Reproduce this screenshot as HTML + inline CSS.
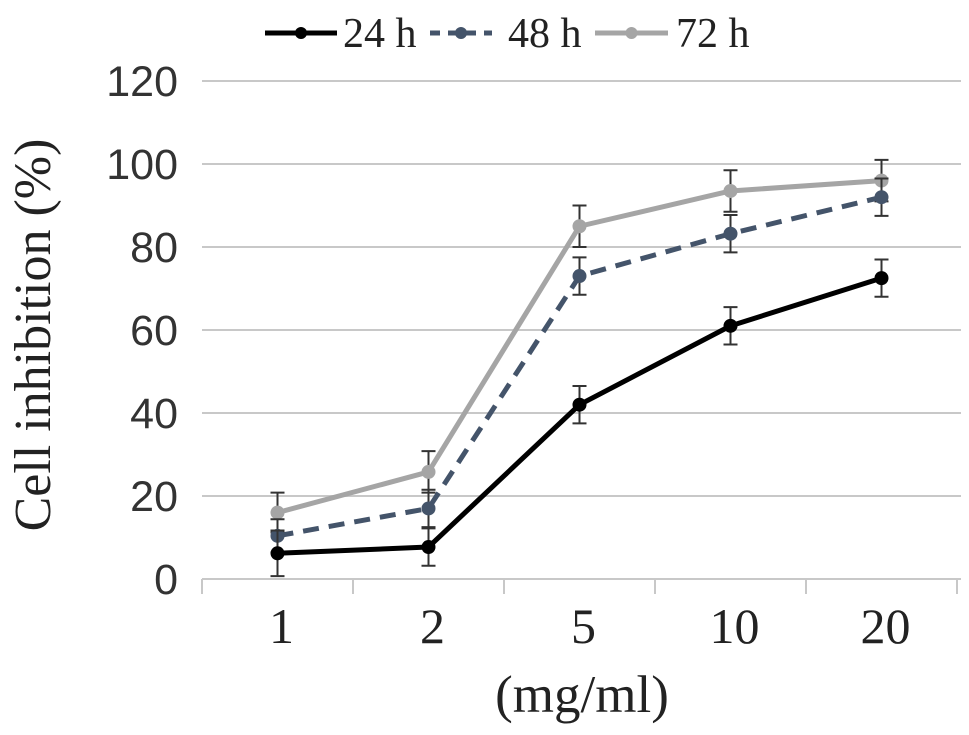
<!DOCTYPE html>
<html><head><meta charset="utf-8"><style>
html,body{margin:0;padding:0;background:#fff;}
svg{display:block;}
</style></head><body>
<svg id="chart" width="969" height="735" xmlns="http://www.w3.org/2000/svg">
<g id="grid"></g>
<g id="axes"></g>
<g id="series"></g>
<text x="50" y="335" transform="rotate(-90 50 335)" text-anchor="middle" font-family="Liberation Serif, serif" font-size="52" fill="#222">Cell inhibition (%)</text>
<text x="582" y="712" text-anchor="middle" font-family="Liberation Serif, serif" font-size="53" fill="#222">(mg/ml)</text>
<g id="legend"></g>
</svg>
<script>
const categories = ["1","2","5","10","20"];
const yTicks = [0,20,40,60,80,100,120];
const seriesNames = ["24 h","48 h","72 h"];
const v24 = [6.2, 7.7, 42, 61, 72.5];
const v48 = [10.4, 17, 73, 83.2, 92];
const v72 = [16, 25.8, 85, 93.5, 96];
const e24 = [5.5, 4.5, 4.5, 4.5, 4.5];
const e48 = [4, 4.5, 4.5, 4.5, 4.5];
const e72 = [4.8, 5, 5, 5, 5];

const NS="http://www.w3.org/2000/svg";
const X0=202, XW=151, Y0=579, YS=83/20;
function xPos(i){return X0+XW*(i+0.5);}
function yPos(v){return Y0-v*YS;}
function mk(tag,attrs,parent){const e=document.createElementNS(NS,tag);for(const k in attrs)e.setAttribute(k,attrs[k]);parent.appendChild(e);return e;}

const grid=document.getElementById('grid'), axes=document.getElementById('axes');
yTicks.forEach(t=>{
  if(t>0){const l=mk('line',{x1:X0,x2:X0+XW*5+4,y1:yPos(t),y2:yPos(t),stroke:'#c8c8c8','stroke-width':2},grid);
  
  }
  const tx=mk('text',{x:178,y:yPos(t)+15,'text-anchor':'end','font-family':'Liberation Sans, sans-serif','font-size':43,fill:'#333'},axes);
  tx.textContent=t;
  
  
});
const ax=mk('line',{x1:X0,x2:X0+XW*5+4,y1:Y0,y2:Y0,stroke:'#c8c8c8','stroke-width':2},axes);


for(let i=0;i<=5;i++){
  const t=mk('line',{x1:X0+XW*i,x2:X0+XW*i,y1:Y0,y2:Y0+15,stroke:'#c8c8c8','stroke-width':2},axes);
  
  
}
categories.forEach((c,i)=>{
  const tx=mk('text',{x:xPos(i)+4,y:643,'text-anchor':'middle','font-family':'Liberation Serif, serif','font-size':50,fill:'#222'},axes);
  tx.textContent=c;
  
  
});

const seriesDefs=[
  {vals:v24,errs:e24,color:'#000',dash:'',name:'series-24h'},
  {vals:v48,errs:e48,color:'#44546a',dash:'16 10',name:'series-48h'},
  {vals:v72,errs:e72,color:'#a5a5a5',dash:'',name:'series-72h'}
];
const sg=document.getElementById('series');
[2,1,0].forEach(si=>{
  const s=seriesDefs[si];
  const g=mk('g',{},sg);
  
  
  s.vals.forEach((v,i)=>{
    const x=xPos(i),yt=yPos(v+s.errs[i]),yb=yPos(v-s.errs[i]);
    const eb=mk('path',{d:`M${x},${yt}V${yb}M${x-7},${yt}H${x+7}M${x-7},${yb}H${x+7}`,stroke:'#333','stroke-width':2,fill:'none'},g);
    
    
  });
  const pl=mk('polyline',{points:s.vals.map((v,i)=>xPos(i)+','+yPos(v)).join(' '),fill:'none',stroke:s.color,'stroke-width':5,'stroke-dasharray':s.dash,'stroke-linejoin':'round'},g);
  
  
  s.vals.forEach((v,i)=>{
    const c=mk('circle',{cx:xPos(i),cy:yPos(v),r:7,fill:s.color},g);
    
    
  });
});

const lg=document.getElementById('legend');
const legPos=[[265,337,343],[430,492,508],[595,668,676]];
seriesNames.forEach((n,i)=>{
  const s=seriesDefs[i],p=legPos[i];
  const g=mk('g',{},lg);
  
  
  mk('line',{x1:p[0],x2:p[1],y1:33,y2:33,stroke:s.color,'stroke-width':5,'stroke-dasharray':i==1?'10 8':''},g);
  mk('circle',{cx:(p[0]+p[1])/2,cy:33,r:6,fill:s.color},g);
  const t=mk('text',{x:p[2],y:47,'font-family':'Liberation Serif, serif','font-size':42,fill:'#222'},g);
  t.textContent=n;
});
</script>
</body></html>
